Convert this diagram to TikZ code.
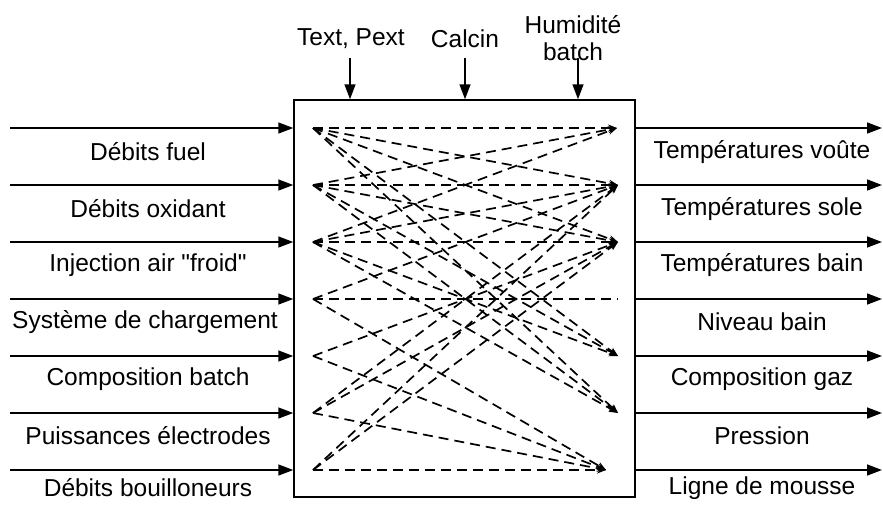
\documentclass[tikz,border=0pt]{standalone}
\usepackage{fontspec}
\setmainfont{Liberation Sans}
\usetikzlibrary{arrows.meta,positioning}

\begin{document}
\begin{tikzpicture}[
    x=1pt, y=-1pt,
    lbl/.style={font=\fontsize{24.5}{27}\selectfont, align=center, inner sep=0pt},
    arr/.style={-{Triangle[length=15pt,width=11pt]}, line width=1.5pt},
    link/.style={dash pattern=on 10pt off 6pt, line width=1.7pt, -{Stealth[length=9pt,width=7pt]}},
    flat/.style={dash pattern=on 10pt off 6pt, line width=1.7pt}
]
\useasboundingbox (0,0) rectangle (883,504);

% furnace box
\node[draw, line width=1.5pt, minimum width=341pt, minimum height=397pt, inner sep=0pt] (furnace) at (464.5,298.5) {};

% top inputs
\node[lbl] (ext) at (351,39) {Text, Pext};
\node[lbl] (calcin) at (465,39) {Calcin};
\node[lbl] (humid) at (573,38) {Humidit\'e\\batch};
\coordinate (t1) at (350,58);
\coordinate (t2) at (465,58);
\coordinate (t3) at (578,58);
\draw[arr] (t1) -- (t1 |- furnace.north);
\draw[arr] (t2) -- (t2 |- furnace.north);
\draw[arr] (t3) -- (t3 |- furnace.north);

% left inputs
\coordinate (in1) at (10,128);
\coordinate (in2) at (10,185);
\coordinate (in3) at (10,242);
\coordinate (in4) at (10,299);
\coordinate (in5) at (10,356);
\coordinate (in6) at (10,413);
\coordinate (in7) at (10,470);
\foreach \i in {1,...,7}
  \draw[arr] (in\i) -- (in\i -| furnace.west);
\node[lbl] (fuel) at (148,152) {D\'ebits fuel};
\node[lbl] (oxid) at (148,209) {D\'ebits oxidant};
\node[lbl] (air) at (148,265) {Injection air \textquotedbl froid\textquotedbl};
\node[lbl] (charge) at (145,322) {Syst\`eme de chargement};
\node[lbl] (compb) at (148,379) {Composition batch};
\node[lbl] (elec) at (148,436) {Puissances \'electrodes};
\node[lbl] (bouil) at (148,488) {D\'ebits bouilloneurs};

% right outputs
\coordinate (out1) at (882,128);
\coordinate (out2) at (882,185);
\coordinate (out3) at (882,242);
\coordinate (out4) at (882,299);
\coordinate (out5) at (882,356);
\coordinate (out6) at (882,413);
\coordinate (out7) at (882,470);
\foreach \i in {1,...,7}
  \draw[arr] (out\i -| furnace.east) -- (out\i);
\node[lbl] (voute) at (762,152) {Temp\'eratures vo\^ute};
\node[lbl] (sole) at (762,209) {Temp\'eratures sole};
\node[lbl] (bain) at (762,265) {Temp\'eratures bain};
\node[lbl] (niveau) at (762,322) {Niveau bain};
\node[lbl] (compg) at (762,379) {Composition gaz};
\node[lbl] (press) at (762,436) {Pression};
\node[lbl] (mousse) at (762,488) {Ligne de mousse};

% couplings inside the furnace
\coordinate (l1) at (313,128);
\coordinate (l2) at (313,185);
\coordinate (l3) at (313,242);
\coordinate (l4) at (313,299);
\coordinate (l5) at (313,356);
\coordinate (l6) at (313,413);
\coordinate (l7) at (313,470);
\coordinate (r1) at (617,128);
\coordinate (r2) at (618,185);
\coordinate (r3) at (618,242);
\coordinate (r4) at (618,299);
\coordinate (r5) at (618,356);
\coordinate (r6) at (618,413);
\coordinate (r7) at (606,470);

\draw[link] (l1) -- (r1);
\draw[link] (l1) -- (r2);
\draw[link] (l1) -- (r3);
\draw[link] (l1) -- (r5);
\draw[link] (l1) -- (r6);
\draw[link] (l2) -- (r1);
\draw[link] (l2) -- (r2);
\draw[link] (l2) -- (r3);
\draw[link] (l2) -- (r5);
\draw[link] (l2) -- (r6);
\draw[link] (l3) -- (r1);
\draw[link] (l3) -- (r2);
\draw[link] (l3) -- (r3);
\draw[link] (l3) -- (r5);
\draw[link] (l3) -- (r6);
\draw[link] (l4) -- (r2);
\draw[flat] (l4) -- (r4);
\draw[link] (l4) -- (r7);
\draw[link] (l5) -- (r3);
\draw[link] (l5) -- (r7);
\draw[link] (l6) -- (r2);
\draw[link] (l6) -- (r3);
\draw[link] (l6) -- (r7);
\draw[link] (l7) -- (r2);
\draw[link] (l7) -- (r3);
\draw[link] (l7) -- (r7);
\end{tikzpicture}
\end{document}
